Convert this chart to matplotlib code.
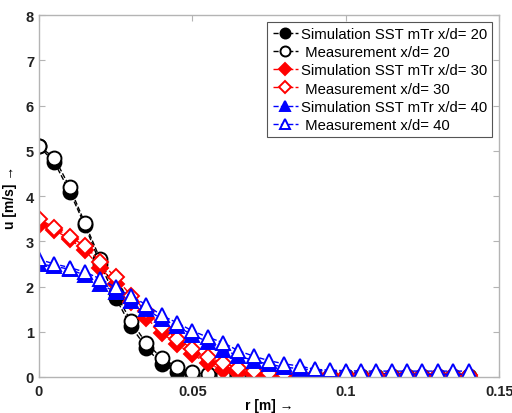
import numpy as np
import matplotlib.pyplot as plt

plt.rcParams["font.family"] = ["Liberation Sans", "DejaVu Sans"]

# radial positions (m)
r = np.arange(29) * 0.005

# x/d = 20
sim_20 = [5.10, 4.75, 4.10, 3.35, 2.50, 1.75, 1.12, 0.65, 0.28, 0.12, 0.05, 0.02, 0.01,
          0.0, 0.0, 0.0, 0.0, 0.0, 0.0, 0.0, 0.0, 0.0, 0.0, 0.0, 0.0, 0.0, 0.0, 0.0, 0.0]
meas_20 = [5.10, 4.85, 4.20, 3.40, 2.60, 1.85, 1.23, 0.75, 0.42, 0.22, 0.10, 0.06, 0.04,
           0.03, 0.03, 0.02, 0.02, 0.02, 0.02, 0.02, 0.02, 0.02, 0.02, 0.02, 0.02, 0.02, 0.02, 0.02, 0.02]

# x/d = 30
sim_30 = [3.35, 3.25, 3.05, 2.80, 2.42, 2.05, 1.65, 1.30, 0.98, 0.72, 0.50, 0.30, 0.15,
          0.08, 0.04, 0.02, 0.01, 0.0, 0.0, 0.0, 0.0, 0.0, 0.0, 0.0, 0.0, 0.0, 0.0, 0.0, 0.0]
meas_30 = [3.50, 3.30, 3.10, 2.90, 2.55, 2.20, 1.80, 1.45, 1.10, 0.85, 0.62, 0.45, 0.30,
           0.20, 0.13, 0.08, 0.06, 0.05, 0.04, 0.04, 0.04, 0.04, 0.04, 0.04, 0.04, 0.04, 0.04, 0.04, 0.04]

# x/d = 40
sim_40 = [2.50, 2.45, 2.38, 2.25, 2.05, 1.88, 1.68, 1.50, 1.28, 1.12, 0.93, 0.78, 0.60,
          0.47, 0.36, 0.28, 0.22, 0.18, 0.15, 0.12, 0.10, 0.09, 0.08, 0.07, 0.07, 0.06, 0.06, 0.06, 0.06]
meas_40 = [2.60, 2.50, 2.42, 2.32, 2.17, 1.98, 1.78, 1.60, 1.36, 1.20, 1.02, 0.88, 0.76,
           0.58, 0.46, 0.36, 0.29, 0.24, 0.17, 0.15, 0.14, 0.13, 0.13, 0.13, 0.13, 0.13, 0.13, 0.13, 0.13]

fig = plt.figure(figsize=(5.12, 4.14), dpi=100)
ax = fig.add_axes([0.076, 0.087, 0.899, 0.874])

style = dict(linestyle="--", linewidth=1.0, markersize=10, markeredgewidth=1.4)
dstyle = {**style, "markersize": 8.5}

ax.plot(r, sim_20, color="black", marker="o", mfc="black",
        label="Simulation SST mTr x/d= 20", **style)
ax.plot(r, meas_20, color="black", marker="o", mfc="white",
        label=" Measurement x/d= 20", **style)
ax.plot(r, sim_30, color="red", marker="D", mfc="red",
        label="Simulation SST mTr x/d= 30", **dstyle)
ax.plot(r, meas_30, color="red", marker="D", mfc="white",
        label=" Measurement x/d= 30", **dstyle)
ax.plot(r, sim_40, color="blue", marker="^", mfc="blue",
        label="Simulation SST mTr x/d= 40", **style)
ax.plot(r, meas_40, color="blue", marker="^", mfc="white",
        label=" Measurement x/d= 40", **style)

ax.set_xlim(0, 0.15)
ax.set_ylim(0, 8)
ax.set_xticks([0, 0.05, 0.1, 0.15])
ax.set_xticklabels(["0", "0.05", "0.1", "0.15"])
ax.set_yticks(range(0, 9))

for s in ax.spines.values():
    s.set_color("#b4b4b4")
    s.set_linewidth(1.0)
ax.tick_params(direction="in", length=4, color="#b4b4b4", labelsize=10.5,
               top=True, right=True)
ax.tick_params(axis="x", pad=5)
for lab in ax.get_xticklabels() + ax.get_yticklabels():
    lab.set_fontweight("bold")
    lab.set_color("#222222")

ax.set_xlabel("r [m] \u2192", fontsize=10, fontweight="bold", labelpad=0)
ax.set_ylabel("u [m/s] \u2192", fontsize=10, fontweight="bold", labelpad=6)

leg = ax.legend(loc="upper right", fontsize=10.75, handlelength=1.7, handletextpad=0.2,
                borderpad=0.35, labelspacing=0.28, fancybox=False, framealpha=1,
                borderaxespad=0.45, markerscale=0.72)
leg.get_frame().set_edgecolor("#555555")
leg.get_frame().set_linewidth(0.8)

fig.savefig("out.png", dpi=100)
